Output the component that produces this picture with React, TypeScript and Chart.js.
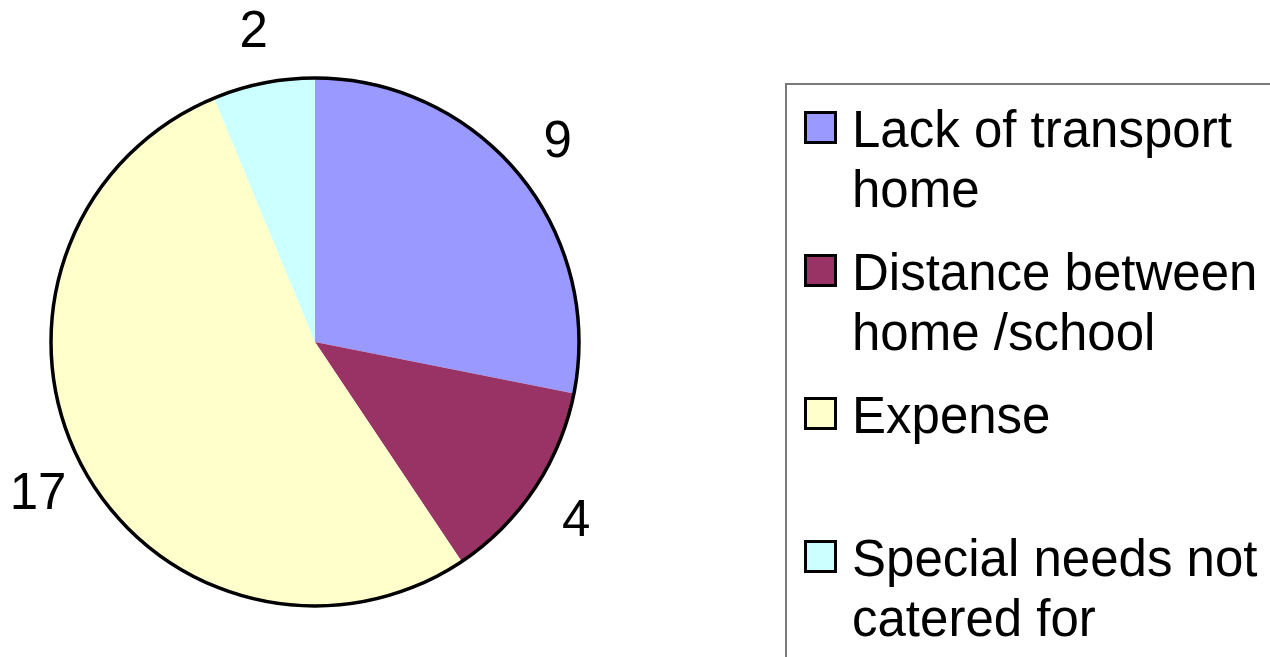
import React, { useEffect, useRef } from "react";
import { Chart, registerables } from "chart.js";

Chart.register(...registerables);

const categories = [
  "Lack of transport home",
  "Distance between home /school",
  "Expense",
  "Special needs not catered for",
];
const values = [9, 4, 17, 2];
const colors = ["#9999FF", "#993366", "#FFFFCC", "#CCFFFF"];

const FONT = '"Liberation Sans", Arial, sans-serif';

const outlineAndLabels = {
  id: "outlineAndLabels",
  afterDatasetsDraw(chart: any) {
    const meta = chart.getDatasetMeta(0);
    const arcs = meta.data;
    if (!arcs.length) return;
    const ctx = chart.ctx;
    const { x, y, outerRadius } = arcs[0];
    ctx.save();
    ctx.beginPath();
    ctx.arc(x, y, outerRadius, 0, Math.PI * 2);
    ctx.lineWidth = 3.5;
    ctx.strokeStyle = "#000";
    ctx.stroke();
    ctx.fillStyle = "#000";
    ctx.font = `51px ${FONT}`;
    ctx.textAlign = "center";
    ctx.textBaseline = "alphabetic";
    const ds = chart.data.datasets[0].data;
    arcs.forEach((a: any, i: number) => {
      const mid = (a.startAngle + a.endAngle) / 2;
      const R = a.outerRadius + 50;
      const lx = a.x + R * Math.cos(mid);
      const ly = a.y + (R + 4) * Math.sin(mid);
      ctx.fillText(String(ds[i]), lx, ly + 17);
    });
    ctx.restore();
  },
};

export default function App() {
  const ref = useRef<HTMLCanvasElement>(null);
  useEffect(() => {
    if (!ref.current) return;
    const chart = new Chart(ref.current, {
      type: "pie",
      data: {
        labels: categories,
        datasets: [
          {
            data: values,
            backgroundColor: colors,
            borderWidth: 0,
          },
        ],
      },
      options: {
        responsive: false,
        animation: false,
        devicePixelRatio: 1,
        layout: { padding: { left: 51, right: 51, top: 78, bottom: 51 } },
        plugins: {
          legend: { display: false },
          tooltip: { enabled: false },
        },
      },
      plugins: [outlineAndLabels],
    });
    return () => chart.destroy();
  }, []);

  return (
    <div
      style={{
        position: "fixed",
        left: 0,
        top: 0,
        width: 1270,
        height: 657,
        overflow: "hidden",
        background: "#fff",
        fontFamily: FONT,
      }}
    >
      <canvas
        ref={ref}
        width={630}
        height={657}
        style={{ position: "absolute", left: 0, top: 0, width: 630, height: 657 }}
      />
      <div
        style={{
          position: "absolute",
          left: 785,
          top: 83,
          width: 600,
          height: 700,
          border: "2px solid #7a7a7a",
          boxSizing: "border-box",
        }}
      />
      <div style={{ position: "absolute", left: 804, top: 100 }}>
        {categories.map((c, i) => (
          <div
            key={c}
            style={{ display: "flex", alignItems: "flex-start", height: 143 }}
          >
            <div
              style={{
                width: 33,
                height: 33,
                boxSizing: "border-box",
                border: "3px solid #000",
                background: colors[i],
                marginTop: 11,
                flex: "none",
              }}
            />
            <div
              style={{
                marginLeft: 15,
                width: 418,
                fontSize: 51,
                lineHeight: "60px",
                color: "#000",
              }}
            >
              {c}
            </div>
          </div>
        ))}
      </div>
    </div>
  );
}
